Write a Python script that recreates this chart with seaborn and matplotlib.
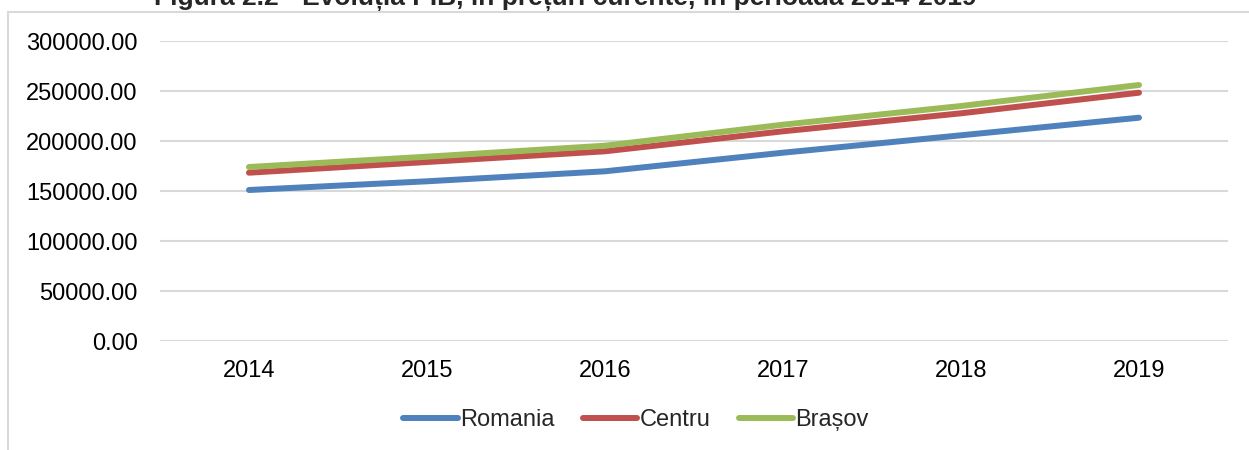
import pandas as pd
import matplotlib.pyplot as plt
import seaborn as sns
from matplotlib.lines import Line2D
from matplotlib.ticker import FuncFormatter

# data
years = ["2014", "2015", "2016", "2017", "2018", "2019"]
romania = [151000, 159700, 169700, 188300, 205700, 223300]
centru = [168300, 179000, 189700, 209700, 227700, 248300]
brasov = [174000, 184300, 195300, 216300, 235000, 256000]
regions = ["Romania", "Centru", "Brașov"]
colors = ["#4f81bd", "#c0504d", "#9bbb59"]

df = pd.DataFrame({
    "an": years * 3,
    "valoare": romania + centru + brasov,
    "regiune": [r for r in regions for _ in years],
})

sns.set_style("white")
plt.rcParams["font.family"] = ["Liberation Sans", "DejaVu Sans"]

fig = plt.figure(figsize=(12.49, 4.5), dpi=100)
ax = fig.add_axes([160 / 1249, 1 - 341 / 450, (1228 - 160) / 1249, 300 / 450])

sns.lineplot(data=df, x="an", y="valoare", hue="regiune", palette=colors,
             linewidth=4.3, ax=ax, legend=False, sort=False)
for ln in ax.lines:
    ln.set_solid_capstyle("round")

ax.set_xlim(-0.5, 5.5)
ax.set_ylim(0, 300000)
ax.set_yticks(range(0, 300001, 50000))
ax.yaxis.set_major_formatter(FuncFormatter(lambda v, p: f"{v:.2f}"))
ax.grid(axis="y", color="#d9d9d9", linewidth=1.5)
ax.set_axisbelow(True)
for s in ax.spines.values():
    s.set_visible(False)
ax.tick_params(axis="both", length=0, labelsize=17, colors="black")
ax.tick_params(axis="y", pad=16)
ax.tick_params(axis="x", pad=14)
ax.set_xlabel("")
ax.set_ylabel("")

# legend
handles = [Line2D([0], [0], color=c, lw=4.3, solid_capstyle="round") for c in colors]
fig.legend(handles, regions, loc="center", bbox_to_anchor=(636 / 1249, 1 - 420 / 450),
           ncol=3, frameon=False, fontsize=17, handlelength=2.3, handletextpad=0.1,
           columnspacing=1.2)

# outer chart frame (partly cut off)
fig.add_artist(Line2D([8 / 1249, 8 / 1249], [0, 1 - 12 / 450], color="#d9d9d9", lw=1.5))
fig.add_artist(Line2D([8 / 1249, 1], [1 - 12 / 450, 1 - 12 / 450], color="#d9d9d9", lw=1.5))

# title, cut off at the top in the original
fig.text(565 / 1249, 1 - 5 / 450,
         "Figura 2.2 - Evoluția PIB, în prețuri curente, în perioada 2014-2019",
         ha="center", va="baseline", fontsize=19, fontweight="bold")

fig.savefig("out.png", dpi=100)
